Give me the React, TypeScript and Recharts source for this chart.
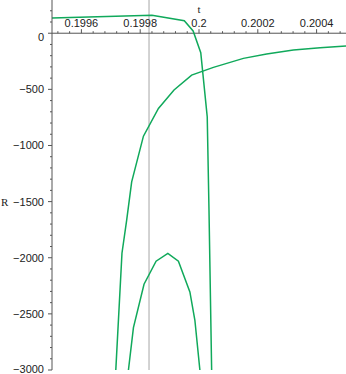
import React from 'react';
import { LineChart, Line, XAxis, YAxis, ReferenceLine } from 'recharts';

// visible window: t along the top axis, R down the left one (t axis crosses at R = 0)
const tDomain: [number, number] = [0.1995, 0.2005];
const rDomain: [number, number] = [-3000, 296];

const tTicks = [0.1996, 0.1998, 0.2, 0.2002, 0.2004];
const tTickLabels = ['0.1996', '0.1998', '0.2', '0.2002', '0.2004'];
const tMinorTicks = [
  0.19952, 0.19956, 0.19964, 0.19968, 0.19972, 0.19976, 0.19984, 0.19988, 0.19992, 0.19996,
  0.20004, 0.20008, 0.20012, 0.20016, 0.20024, 0.20028, 0.20032, 0.20036, 0.20044, 0.20048,
];

const rTicks = [0, -500, -1000, -1500, -2000, -2500, -3000];
const rMinorTicks = [
  200, 100, -100, -200, -300, -400, -600, -700, -800, -900, -1100, -1200, -1300, -1400,
  -1600, -1700, -1800, -1900, -2100, -2200, -2300, -2400, -2600, -2700, -2800, -2900,
];

const markerT = 0.19983;

// branch that starts above the axis and plunges just after t = 0.2
const upperT = [0.1995, 0.19984, 0.19995, 0.19998, 0.200006, 0.200028, 0.200034, 0.200043];
const upperR = [135, 160, 111, 20, -174, -745, -1576, -3000];

// branch rising from the bottom towards the right edge
const risingT = [
  0.199717, 0.199738, 0.199754, 0.199771, 0.199811, 0.199862, 0.199915, 0.199975,
  0.200049, 0.200151, 0.20023, 0.200321, 0.200412, 0.2005,
];
const risingR = [-3000, -1960, -1665, -1324, -917, -670, -506, -373, -304, -224, -185, -150, -129, -114];

// arch near the bottom
const archT = [0.19976, 0.199777, 0.199813, 0.199854, 0.199894, 0.19993, 0.199969, 0.199986, 0.200003];
const archR = [-3000, -2622, -2236, -2031, -1962, -2031, -2305, -2557, -3000];

const GREEN = '#10a95b';
const AXIS = '#555';
const TEXT = '#222';
const SANS = '"Liberation Sans", Arial, sans-serif';
const SERIF = '"Liberation Serif", "Times New Roman", serif';

const toPoints = (ts: number[], rs: number[]) => ts.map((t, i) => ({ t, r: rs[i] }));

const upper = toPoints(upperT, upperR);
const rising = toPoints(risingT, risingR);
const arch = toPoints(archT, archR);

const fmt = (v: number) => (v < 0 ? '\u2212' + Math.abs(v) : String(v));

// R axis ticks: draws its own tick line so major/minor can differ in length
const RTick = (props: any) => {
  const { x, y, payload } = props;
  const v = payload.value;
  const major = rTicks.includes(v);
  const axisX = x + 8; // tickSize + tickMargin
  // 0 sits just under the t axis, the bottom label is nudged to stay on the page
  const dy = v === 0 ? 8 : v === -3000 ? 2.5 : 4;
  return (
    <g>
      <line x1={axisX - (major ? 4 : 2)} x2={axisX} y1={y} y2={y} stroke={AXIS} />
      {major && (
        <text x={x} y={y} dy={dy} textAnchor="end" fill={TEXT} fontSize={11} fontFamily={SANS}>
          {fmt(v)}
        </text>
      )}
    </g>
  );
};

const TLabel = ({ viewBox, text, title }: any) => {
  const { x, y } = viewBox;
  return (
    <g>
      <text x={x} y={y - 2} textAnchor="middle" fill={TEXT} fontSize={11} fontFamily={SANS}>
        {text}
      </text>
      {title && (
        <text x={x} y={y - 16} textAnchor="middle" fill={TEXT} fontSize={11} fontFamily={SERIF}>
          {title}
        </text>
      )}
    </g>
  );
};

export default function App() {
  return (
    <div style={{ position: 'absolute', left: 0, top: 0, background: '#fff' }}>
      <LineChart width={346} height={374} margin={{ top: 0, right: 0, bottom: 4, left: 0 }}>
        <XAxis type="number" dataKey="t" domain={tDomain} allowDataOverflow hide />
        <YAxis
          type="number"
          domain={rDomain}
          allowDataOverflow
          ticks={[...rTicks, ...rMinorTicks]}
          interval={0}
          width={52}
          tickSize={4}
          tickMargin={4}
          tickLine={false}
          stroke={AXIS}
          tick={<RTick />}
          label={{ value: 'R', position: 'insideLeft', offset: 1, dy: 17, fill: TEXT, fontSize: 11, fontFamily: SERIF }}
        />

        <ReferenceLine x={markerT} stroke="#b5b5b5" strokeWidth={1.2} />

        {/* t axis drawn along R = 0 */}
        <ReferenceLine y={0} stroke={AXIS} />
        {tMinorTicks.map((t) => (
          <ReferenceLine key={'m' + t} segment={[{ x: t, y: 0 }, { x: t, y: 18 }]} stroke={AXIS} />
        ))}
        {tTicks.map((t, i) => (
          <ReferenceLine
            key={'M' + t}
            segment={[{ x: t, y: 0 }, { x: t, y: 36 }]}
            stroke={AXIS}
            label={<TLabel text={tTickLabels[i]} title={t === 0.2 ? 't' : undefined} />}
          />
        ))}

        <Line data={upper} dataKey="r" type="linear" dot={false} stroke={GREEN} strokeWidth={1.5} isAnimationActive={false} />
        <Line data={rising} dataKey="r" type="linear" dot={false} stroke={GREEN} strokeWidth={1.5} isAnimationActive={false} />
        <Line data={arch} dataKey="r" type="linear" dot={false} stroke={GREEN} strokeWidth={1.5} isAnimationActive={false} />
      </LineChart>
    </div>
  );
}
